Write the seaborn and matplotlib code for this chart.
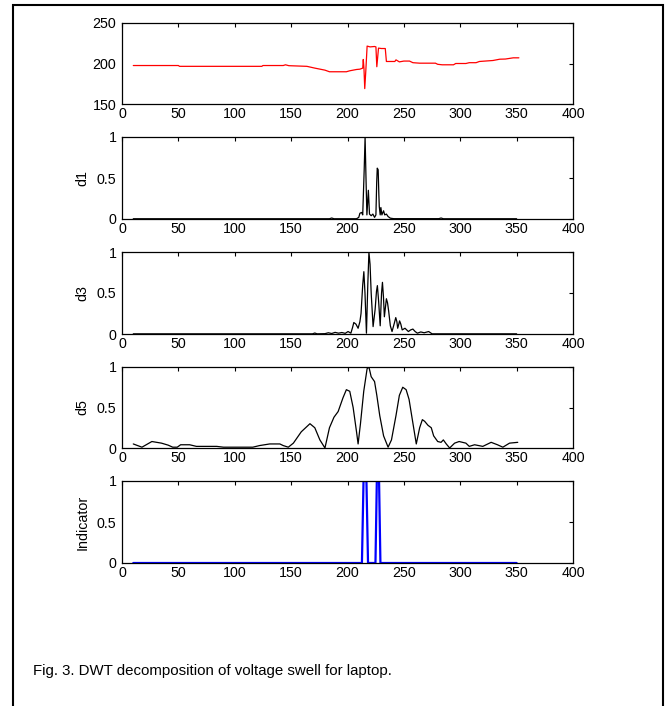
import numpy as np
import matplotlib
matplotlib.use("Agg")
import matplotlib.pyplot as plt
import matplotlib.patches as patches
import seaborn as sns

# voltage rms (top panel)
volt_x = [10, 50, 51, 124, 125, 143, 145, 148, 164, 171, 180, 184, 199, 202, 208, 211,
          213.5, 214.0, 214.6, 215.3, 216.2, 217.4, 220, 224, 225.2, 226.0, 227.5, 230, 233.5,
          234.5, 242, 243, 246, 250, 255, 258, 264, 278, 280, 284, 294, 296, 305, 308, 314,
          317, 329, 335, 340, 347, 352]
volt_y = [197.5, 197.5, 196.5, 196.5, 197.5, 197.5, 198.4, 197.3, 196.5, 194.3, 191.8, 189.8, 189.8,
          191, 192.6, 193, 194.3, 205, 194, 169, 190, 221.5, 220.5, 221, 220.5, 196, 219, 218.5, 218.5,
          202.5, 202.5, 204.5, 202, 203, 203, 201, 200.4, 200.4, 199, 198.4, 198.4, 200, 200, 201,
          201, 202.5, 203.7, 205.3, 205.5, 207, 207]

# d1 detail coefficients
d1_x = [10, 184, 186, 188, 208, 210, 211, 212.5, 213.5, 214.8, 215.6, 216.4, 217.2, 218.5, 219.5,
        221, 222.5, 224, 225.2, 225.9, 226.4, 227.2, 227.8, 228.2, 229, 229.6, 230.5, 232, 233,
        234.5, 236, 238, 241, 281, 283, 285, 350]
d1_y = [0.003, 0.003, 0.012, 0.003, 0.003, 0.02, 0.07, 0.08, 0.05, 0.6, 1.0, 0.5, 0.05, 0.35, 0.06,
        0.04, 0.06, 0.02, 0.05, 0.45, 0.62, 0.6, 0.3, 0.15, 0.05, 0.14, 0.05, 0.1, 0.05,
        0.06, 0.03, 0.01, 0.004, 0.004, 0.012, 0.003, 0.003]

# d3 detail coefficients
d3_x = [10, 169, 171, 173, 180, 183, 186, 189, 192, 195, 198, 200.5, 203, 204.5, 205.6, 207.5,
        209.4, 211, 212, 213.5, 214.5, 215.5, 216.8, 218, 219, 220, 221, 222.7, 224.5, 225.7,
        226.5, 227.6, 229, 230.2, 231, 231.9, 232.7, 234.5, 235.5, 236.5, 238, 239.5, 241.5,
        242.8, 243.8, 244.5, 245.5, 246.2, 247.3, 248.5, 251, 254, 256, 258, 260, 262, 265,
        268, 272, 275, 280, 350]
d3_y = [0.002, 0.002, 0.012, 0.002, 0.004, 0.015, 0.006, 0.02, 0.01, 0.018, 0.008, 0.03, 0.01, 0.08,
        0.14, 0.12, 0.07, 0.15, 0.25, 0.6, 0.76, 0.5, 0.01, 0.6, 1.0, 0.85, 0.5, 0.09, 0.3, 0.52,
        0.59, 0.4, 0.1, 0.5, 0.63, 0.45, 0.21, 0.43, 0.38, 0.28, 0.1, 0.03, 0.13, 0.2, 0.15, 0.07,
        0.12, 0.16, 0.12, 0.05, 0.07, 0.03, 0.05, 0.06, 0.03, 0.01, 0.025, 0.015, 0.03, 0.002,
        0.002, 0.002]

# d5 detail coefficients
d5_x = [10, 17.7, 26.5, 35, 41, 45, 49, 52, 60, 66, 84, 90, 116, 122, 131, 140, 143, 147.5,
        152, 159, 166.7, 171, 175.5, 180, 184, 188, 191.7, 196, 199, 202, 205, 208, 209.4,
        211.5, 214.4, 217.4, 219, 221, 224, 226, 228.6, 232, 236, 239, 243, 246, 249, 252,
        254.6, 257.5, 261, 264, 266.4, 268.4, 271.4, 274.3, 276.4, 280, 283, 285, 287.6,
        290.6, 295, 299, 305, 308, 312.7, 320, 327.4, 333, 337.8, 343.7, 351]
d5_y = [0.05, 0.01, 0.08, 0.06, 0.035, 0.01, 0.01, 0.04, 0.04, 0.02, 0.02, 0.01, 0.01, 0.03, 0.05,
        0.05, 0.03, 0.01, 0.06, 0.2, 0.3, 0.25, 0.1, 0.0, 0.25, 0.38, 0.45, 0.62, 0.72, 0.7, 0.5,
        0.2, 0.05, 0.3, 0.7, 0.98, 1.0, 0.88, 0.82, 0.65, 0.4, 0.15, 0.01, 0.1, 0.4, 0.65, 0.75,
        0.72, 0.6, 0.35, 0.05, 0.25, 0.35, 0.33, 0.28, 0.25, 0.15, 0.08, 0.07, 0.1, 0.05, 0.0,
        0.06, 0.08, 0.06, 0.02, 0.04, 0.02, 0.07, 0.04, 0.01, 0.06, 0.07]

# indicator
ind_x = [10, 212.8, 214.2, 216.8, 218.2, 224.8, 226.0, 228.0, 229.2, 350]
ind_y = [0, 0, 1, 1, 0, 0, 1, 1, 0, 0]

xticks = [0, 50, 100, 150, 200, 250, 300, 350, 400]
caption = "Fig. 3. DWT decomposition of voltage swell for laptop."

sns.set_style("white")
plt.rcParams['font.family'] = ['Liberation Sans', 'DejaVu Sans']
plt.rcParams['text.color'] = 'black'
plt.rcParams['axes.labelcolor'] = 'black'

fig = plt.figure(figsize=(6.71, 7.06), dpi=100)
W, H = 671.0, 706.0

# panel boxes in pixels (top, bottom)
boxes = [(23, 104), (137, 219), (252, 334), (367, 448), (481, 563)]
left, right = 122, 573

panels = [
    (volt_x, volt_y, 'red', 0.9, None, (150, 250), [150, 200, 250], ['150', '200', '250']),
    (d1_x, d1_y, 'black', 0.9, 'd1', (0, 1), [0, 0.5, 1], ['0', '0.5', '1']),
    (d3_x, d3_y, 'black', 0.9, 'd3', (0, 1), [0, 0.5, 1], ['0', '0.5', '1']),
    (d5_x, d5_y, 'black', 0.9, 'd5', (0, 1), [0, 0.5, 1], ['0', '0.5', '1']),
    (ind_x, ind_y, 'blue', 1.6, 'Indicator', (0, 1), [0, 0.5, 1], ['0', '0.5', '1']),
]

for (top, bot), (xs, ys, col, lw, lab, ylim, yt, ytl) in zip(boxes, panels):
    ax = fig.add_axes([left / W, 1 - bot / H, (right - left) / W, (bot - top) / H])
    sns.lineplot(x=np.array(xs), y=np.array(ys), ax=ax, color=col, linewidth=lw,
                 estimator=None, sort=False, legend=False)
    ax.set_xlim(0, 400)
    ax.set_ylim(*ylim)
    ax.set_xticks(xticks)
    ax.set_xticklabels([str(t) for t in xticks])
    ax.set_yticks(yt)
    ax.set_yticklabels(ytl)
    ax.tick_params(direction='in', top=True, right=True, length=3, width=0.8,
                   labelsize=10.3, colors='black', pad=2.5)
    ax.tick_params(axis='y', pad=4)
    for s in ax.spines.values():
        s.set_visible(True)
        s.set_color('black')
        s.set_linewidth(0.9)
    ax.set_xlabel('')
    if lab:
        ax.set_ylabel(lab, fontsize=10.3, color='black')
        ax.yaxis.set_label_coords(-0.072, 0.5)
    else:
        ax.set_ylabel('')

# outer frame of the figure box
frame = patches.Rectangle((12.5 / W, -0.02), (663 - 12.5) / W, (706 - 4.5) / H + 0.02,
                          transform=fig.transFigure, fill=False, edgecolor='black',
                          linewidth=1.5)
fig.patches.append(frame)

fig.text(33 / W, 1 - 675 / H, caption, fontsize=10.8, va='baseline', ha='left', color='black')

fig.savefig('out.png', dpi=100)
